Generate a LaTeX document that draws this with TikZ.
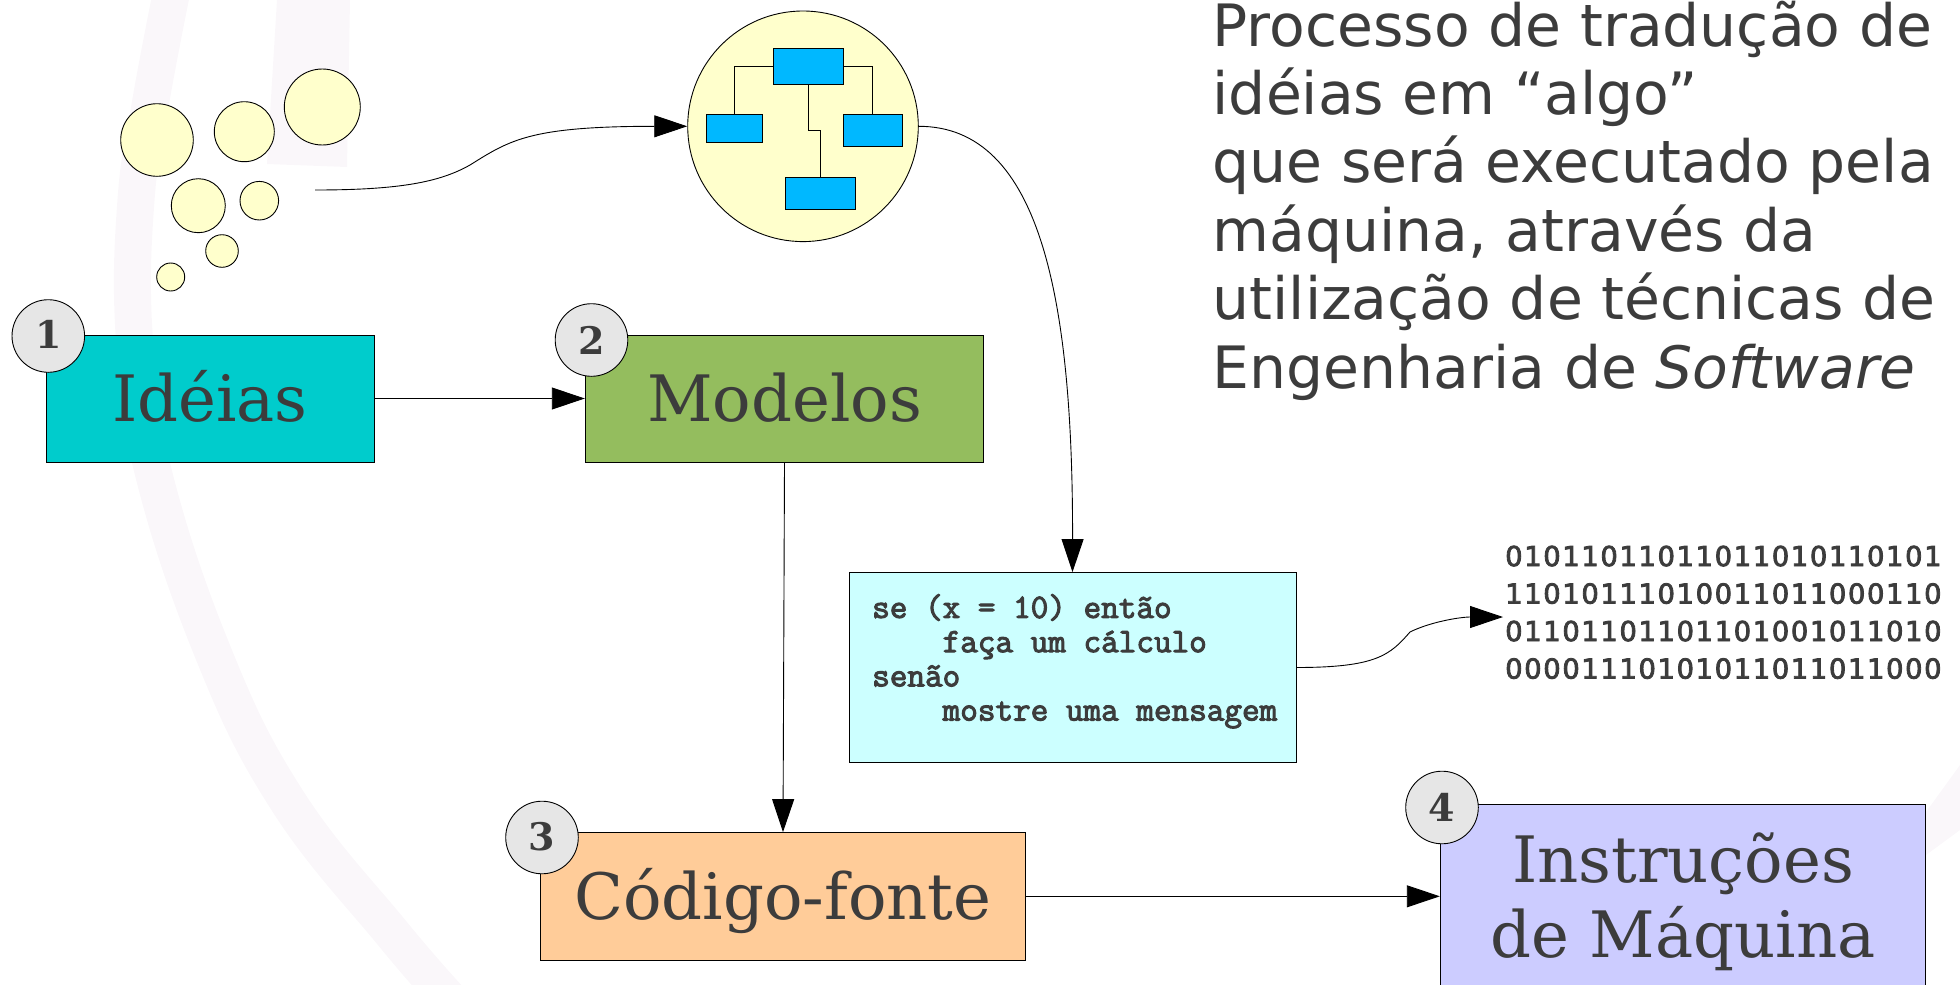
\documentclass[tikz,border=0pt]{standalone}
\usepackage{fontspec}
\setmainfont{DejaVu Serif}
\newfontfamily\titlefont{DejaVu Sans}
\newfontfamily\binfont[FakeBold=3,LetterSpace=5.9]{DejaVu Sans}
\newfontfamily\codefont[FakeBold=3]{Latin Modern Mono}
\usetikzlibrary{arrows.meta,calc}
\definecolor{txt}{HTML}{3C3C3C}
\definecolor{wm}{HTML}{FAF7FA}
\definecolor{cyel}{HTML}{FFFFCC}
\definecolor{cblue}{HTML}{00B8FF}
\definecolor{cteal}{HTML}{00CCCC}
\definecolor{cgreen}{HTML}{94BD5E}
\definecolor{corange}{HTML}{FFCC99}
\definecolor{clav}{HTML}{CCCCFF}
\definecolor{ccode}{HTML}{CCFFFF}
\definecolor{cgrey}{HTML}{E6E6E6}
\tikzset{
  stagebox/.style={draw=black,line width=0.9pt,rectangle,inner sep=0pt,text=txt,font=\fontsize{64}{75}\selectfont},
  badge/.style={draw=black,line width=0.9pt,fill=cgrey,circle,minimum size=72.6pt,inner sep=0pt,text=txt,font=\fontsize{38}{38}\selectfont\bfseries,text depth=0pt},
  bubble/.style={draw=black,line width=0.9pt,fill=cyel,circle,inner sep=0pt},
  minibox/.style={draw=black,line width=0.9pt,fill=cblue,rectangle,inner sep=0pt},
  wire/.style={draw=black,line width=0.9pt},
  conn/.style={draw=black,line width=0.9pt,-{Triangle[length=33pt,width=22pt]}},
}
\begin{document}
\begin{tikzpicture}[x=1pt,y=-1pt]
\useasboundingbox (0,0) rectangle (1960,985);
\clip (0,0) rectangle (1960,985);
% watermark
\draw[wm,line width=37pt] plot[smooth,tension=0.7] coordinates {(172,-10) (151,100) (136,200) (134,333) (152,467) (212,650) (287,800) (392,933) (450,1000)};
\fill[wm] (277,0) -- (350,0) -- (347,167) -- (267,164) -- cycle;
\fill[wm] (1960,765) -- (1960,830) -- (1926,855) -- (1926,812) -- cycle;
% bubbles
\node[bubble,minimum size=72.6pt] (b1) at (157,140) {};
\node[bubble,minimum size=60pt] (b2) at (244.3,131.7) {};
\node[bubble,minimum size=76pt] (b3) at (322.3,107) {};
\node[bubble,minimum size=54pt] (b4) at (198.3,205.7) {};
\node[bubble,minimum size=38.6pt] (b5) at (259.3,200.7) {};
\node[bubble,minimum size=32.6pt] (b6) at (222,251) {};
\node[bubble,minimum size=28pt] (b7) at (170.7,277) {};
% model circle
\node[bubble,minimum size=230.6pt] (big) at (803,126.3) {};
\node[minibox,minimum width=70pt,minimum height=36pt] (mtop) at (808,66.3) {};
\node[minibox,minimum width=55.6pt,minimum height=28pt] (mleft) at (734.5,128.7) {};
\node[minibox,minimum width=59.7pt,minimum height=32pt] (mright) at (872.8,130.7) {};
\node[minibox,minimum width=70.4pt,minimum height=32.3pt] (mbot) at (820.5,193.1) {};
\draw[wire] (mtop.west) -| (mleft.north);
\draw[wire] (mtop.east) -| (mright.north);
\draw[wire] (mtop.south) |- ($(mtop.south)!0.5!(mbot.north)$) -| (mbot.north);
% stages
\node[stagebox,fill=cteal,minimum width=328pt,minimum height=127pt,text height=45pt,text depth=0pt] (ideias) at (210,398.5) {Idéias};
\node[stagebox,fill=cgreen,minimum width=398.5pt,minimum height=127pt,text height=45pt,text depth=0pt] (modelos) at (784.5,398.5) {Modelos};
\node[stagebox,fill=corange,minimum width=485.5pt,minimum height=127.5pt,text height=46pt,text depth=0pt] (codigo) at (783,896.3) {Código-fonte};
\node[stagebox,fill=clav,minimum width=485.5pt,minimum height=184pt] (instr) at (1683,896.3) {};
\node[text=txt,font=\fontsize{64}{75}\selectfont,align=center,inner sep=0pt,anchor=base] (instrtxt) at (1683,957.5) {Instruções\\de Máquina};
\node[draw=black,line width=0.9pt,fill=ccode,rectangle,inner sep=0pt,minimum width=447pt,minimum height=190pt] (code) at (1072.5,667.5) {};
\node[text=txt,font=\fontsize{34.2}{34.2}\selectfont\codefont,align=left,inner sep=0pt,anchor=north west] (codetxt) at (872,594) {se (x = 10) então\\\phantom{mmmm}faça um cálculo\\senão\\\phantom{mmmm}mostre uma mensagem};
% badges
\node[badge,text height=24pt] (n1) at (48.3,336) {1};
\node[badge,text height=28.6pt] (n2) at (591.5,340) {2};
\node[badge,text height=26.4pt] (n3) at (542,837.5) {3};
\node[badge,text height=28.4pt] (n4) at (1442,807.5) {4};
% title
\node[text=txt,font=\fontsize{58.4}{68.4}\selectfont\titlefont,align=left,inner sep=0pt,anchor=north west] (title) at (1212.5,0.5) {Processo de tradução de\\idéias em “algo”\\que será executado pela\\máquina, através da\\utilização de técnicas de\\Engenharia de \textit{Software}};
% binary
\node[text=txt,font=\fontsize{27.4}{37.5}\selectfont\binfont,align=left,inner sep=0pt,anchor=north west] (bin) at (1505,545.5) {01011011011011010110101\\11010111010011011000110\\01101101101101001011010\\00001110101011011011000};
% connectors
\coordinate (ideaend) at (315,190);
\coordinate (ideamid) at (470,165);
\coordinate (binin) at (1503,617);
\coordinate (codemid) at (1410,632);
\draw[conn] (ideias.east) -- (modelos.west);
\draw[conn] (modelos.south) -- (codigo.north);
\draw[conn] (codigo.east) -- (instr.west);
\draw[conn] (ideaend) .. controls +(85,0) and (440,182) .. (ideamid) .. controls (510,140) and (530,126.3) .. (big.west);
\draw[conn] (big.east) .. controls +(122,0) and (1073,300) .. (code.north);
\draw[conn] (code.east) .. controls +(80,0) and (1390,655) .. (codemid) .. controls (1430,622) and (1460,617) .. (binin);
\end{tikzpicture}
\end{document}
